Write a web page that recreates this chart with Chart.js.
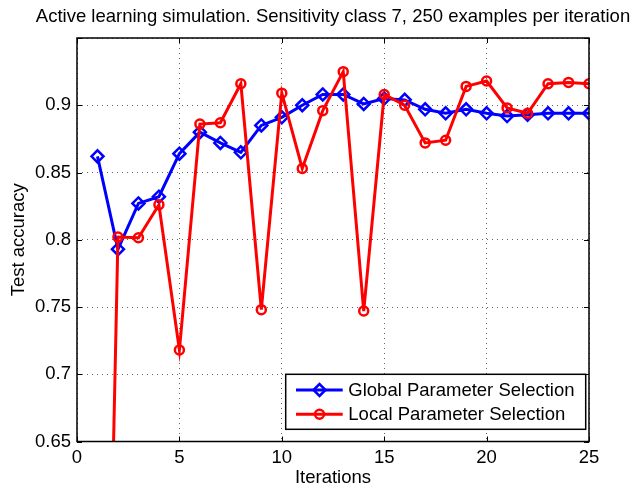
<!DOCTYPE html>
<html><head><meta charset="utf-8">
<script src="https://cdn.jsdelivr.net/npm/chart.js@4/dist/chart.umd.min.js"></script>
<style>html,body{margin:0;padding:0;background:#fff;overflow:hidden}#wrap{width:637px;height:487px}</style>
</head><body><div id="wrap"><canvas id="c" width="637" height="487"></canvas></div>
<script>
const titleText = 'Active learning simulation. Sensitivity class 7, 250 examples per iteration';
const xAxisTitle = 'Iterations';
const yAxisTitle = 'Test accuracy';
const seriesNames = ['Global Parameter Selection', 'Local Parameter Selection'];
const iterations = [1,2,3,4,5,6,7,8,9,10,11,12,13,14,15,16,17,18,19,20,21,22,23,24,25];
const globalAcc = [0.862,0.793,0.827,0.832,0.864,0.880,0.872,0.865,0.885,0.891,0.900,0.908,0.908,0.901,0.905,0.904,0.897,0.894,0.897,0.894,0.892,0.893,0.894,0.894,0.894];
const localAcc  = [0.090,0.802,0.8015,0.826,0.718,0.886,0.887,0.916,0.748,0.909,0.853,0.896,0.925,0.747,0.908,0.900,0.872,0.874,0.914,0.918,0.898,0.894,0.916,0.917,0.916];
const xTicks = [0,5,10,15,20,25];
const xTickLabels = ['0','5','10','15','20','25'];
const yTicks = [0.65,0.7,0.75,0.8,0.85,0.9,0.95];
const yTickLabels = ['0.65','0.7','0.75','0.8','0.85','0.9',''];

const FAMILY = "'Liberation Sans', Arial, Helvetica, sans-serif";
const FS = 18.5;
const FONT = {family: FAMILY, size: FS};
const GRID = 'rgba(0,0,0,0.6)';
const BLUE = '#0000ff', RED = '#ff0000';

function labelFor(list, labels, v){
  const i = list.findIndex(t => Math.abs(t - v) < 1e-9);
  return i >= 0 ? labels[i] : '';
}

const bgPlugin = {
  id: 'bg',
  beforeDraw(chart){
    const c = chart.ctx; c.save(); c.fillStyle = '#fff';
    c.fillRect(0,0,chart.width,chart.height); c.restore();
  }
};

const titlePlugin = {
  id: 'mtitle',
  afterDraw(chart){
    const {left,right} = chart.chartArea; const c = chart.ctx;
    c.save(); c.fillStyle = '#000'; c.font = FS + 'px ' + FAMILY;
    c.textAlign = 'center'; c.textBaseline = 'middle';
    c.fillText(titleText, (left+right)/2, 17);
    c.restore();
  }
};

const framePlugin = {
  id: 'frame',
  afterDatasetsDraw(chart){
    const {left,right,top,bottom} = chart.chartArea; const c = chart.ctx;
    const xs = chart.scales.x, ys = chart.scales.y;
    c.save(); c.strokeStyle = '#000';
    c.lineWidth = 1;
    const TL = 5;
    c.beginPath();
    xTicks.forEach(v => { const p = Math.round(xs.getPixelForValue(v)) + 0.5;
      c.moveTo(p,bottom); c.lineTo(p,bottom-TL); c.moveTo(p,top); c.lineTo(p,top+TL); });
    yTicks.forEach(v => { const p = Math.round(ys.getPixelForValue(v)) + 0.5;
      c.moveTo(left,p); c.lineTo(left+TL,p); c.moveTo(right,p); c.lineTo(right-TL,p); });
    c.stroke();
    c.lineWidth = 1.5;
    c.strokeRect(left, top, right-left, bottom-top);
    c.restore();
  }
};

const legendPlugin = {
  id: 'mlegend',
  afterDraw(chart){
    const {right,bottom} = chart.chartArea; const c = chart.ctx;
    const w = 300, h = 55;
    const bx = right - 3.3 - w, by = bottom - 12.2 - h;
    c.save();
    c.fillStyle = '#fff'; c.fillRect(bx,by,w,h);
    c.strokeStyle = '#000'; c.lineWidth = 1.5; c.strokeRect(bx,by,w,h);
    const rows = [by + 15.7, by + 40];
    chart.data.datasets.forEach((ds, i) => {
      const y = rows[i];
      c.strokeStyle = ds.borderColor; c.lineWidth = ds.borderWidth;
      c.beginPath(); c.moveTo(bx+10.3,y); c.lineTo(bx+57,y); c.stroke();
      c.lineWidth = ds.pointBorderWidth; c.fillStyle = 'rgba(0,0,0,0)';
      if (Chart.helpers && Chart.helpers.drawPoint) {
        Chart.helpers.drawPoint(c, {pointStyle: ds.pointStyle, radius: ds.pointRadius, borderWidth: ds.pointBorderWidth, rotation: 0}, bx+33.8, y);
      }
      c.fillStyle = '#000'; c.font = FS + 'px ' + FAMILY;
      c.textAlign = 'left'; c.textBaseline = 'middle';
      c.fillText(ds.label, bx+62.6, y+1);
    });
    c.restore();
  }
};

const ctx = document.getElementById('c').getContext('2d');
new Chart(ctx, {
  type: 'line',
  data: {
    datasets: [
      {label: seriesNames[0], data: iterations.map((x,i)=>({x:x, y:globalAcc[i]})),
       borderColor: BLUE, backgroundColor: 'rgba(0,0,0,0)', borderWidth: 3,
       pointStyle: 'rectRot', pointRadius: 6, pointBorderWidth: 2.5,
       pointBorderColor: BLUE, pointBackgroundColor: 'rgba(0,0,0,0)', tension: 0, order: 1},
      {label: seriesNames[1], data: iterations.map((x,i)=>({x:x, y:localAcc[i]})),
       borderColor: RED, backgroundColor: 'rgba(0,0,0,0)', borderWidth: 3,
       pointStyle: 'circle', pointRadius: 4.5, pointBorderWidth: 2.5,
       pointBorderColor: RED, pointBackgroundColor: 'rgba(0,0,0,0)', tension: 0, order: 0}
    ]
  },
  options: {
    responsive: false, animation: false, devicePixelRatio: 1,
    layout: {padding: {top: 38, right: 48, left: 0, bottom: 0}},
    plugins: {legend: {display: false}, title: {display: false}, tooltip: {enabled: false}},
    scales: {
      x: {type: 'linear', min: 0, max: 25,
          afterBuildTicks: s => { s.ticks = xTicks.map(v => ({value: v})); },
          afterFit: s => { s.height = 45.5; },
          ticks: {font: FONT, color: '#000', padding: 5, maxRotation: 0, autoSkip: false,
                  callback: v => labelFor(xTicks, xTickLabels, v)},
          grid: {color: GRID, lineWidth: 1, drawTicks: false},
          border: {display: false, dash: [1,4]},
          title: {display: true, text: xAxisTitle, color: '#000', font: {family: FAMILY, size: FS, lineHeight: 1}, padding: 0}},
      y: {type: 'linear', min: 0.65, max: 0.95,
          afterBuildTicks: s => { s.ticks = yTicks.map(v => ({value: v})); },
          afterFit: s => { s.width = 77; },
          ticks: {font: FONT, color: '#000', padding: 6, autoSkip: false,
                  callback: v => labelFor(yTicks, yTickLabels, v)},
          grid: {color: GRID, lineWidth: 1, drawTicks: false},
          border: {display: false, dash: [1,4]},
          title: {display: true, text: yAxisTitle, color: '#000', font: {family: FAMILY, size: FS, lineHeight: 1}, padding: {top: 10, bottom: 0}}}
    }
  },
  plugins: [bgPlugin, framePlugin, legendPlugin, titlePlugin]
});
</script></body></html>
